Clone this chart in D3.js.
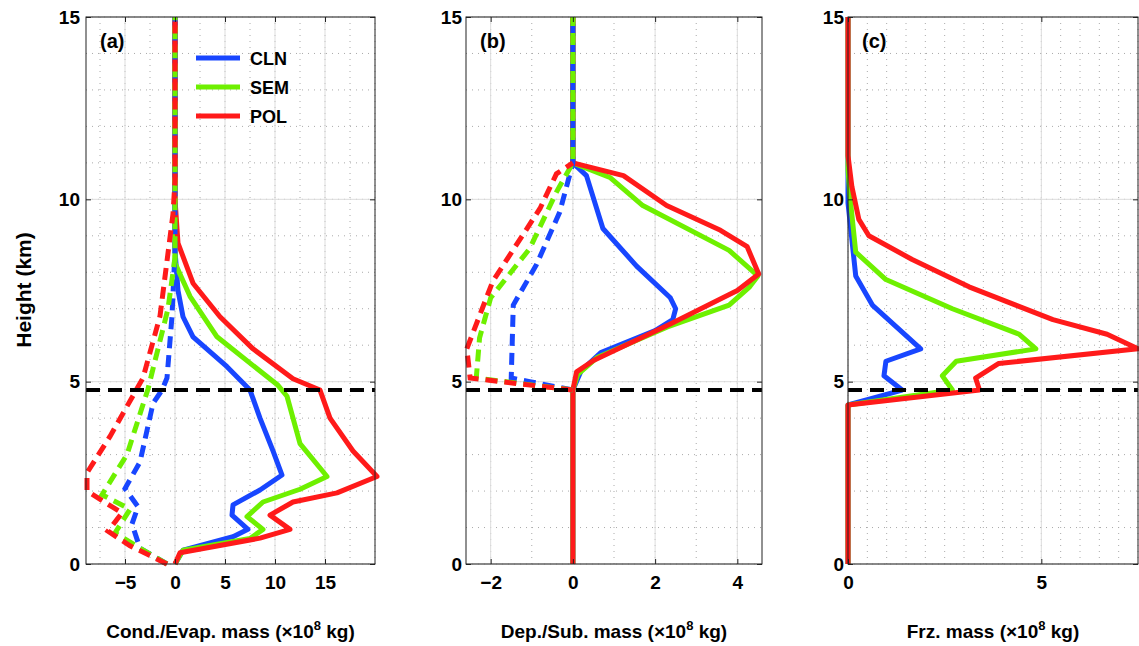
<!DOCTYPE html><html><head><meta charset="utf-8">
<script src="https://cdn.jsdelivr.net/npm/d3@7"></script>
<style>body{margin:0;background:#fff}text{font-family:Arial,"Liberation Sans",sans-serif;font-weight:bold}</style></head><body>
<svg id="c" width="1139" height="646"></svg>
<script>
// data: arrays of [value, height km]
const aCLN=[[0,0],[0.8,0.38],[5.8,0.75],[7.3,0.95],[5.7,1.34],[5.8,1.62],[8.5,2.03],[10.7,2.44],[9.8,3.1],[8.5,4.0],[7.5,4.77],[5.2,5.41],[1.8,6.23],[0.8,6.78],[0.3,7.5],[0,8.6],[0,15]];
const aSEM=[[0,0],[0.8,0.38],[7.5,0.7],[8.8,0.95],[7.2,1.3],[8.8,1.7],[12.5,2.05],[15.2,2.4],[12.5,3.3],[11.2,4.6],[10.3,4.9],[4.2,6.23],[1.5,7.34],[0,8.25],[0,15]];
const aPOL=[[0,0],[0.5,0.31],[8.5,0.71],[11.5,0.95],[9.5,1.34],[11.8,1.7],[16.2,1.95],[20.2,2.4],[17.8,3.1],[15.5,4.0],[14.5,4.77],[11.8,5.08],[7.8,5.9],[4.5,6.78],[1.8,7.7],[0.3,8.8],[0,10],[0,15]];
const aCLNd=[[-0.8,0],[-3.5,0.43],[-4.3,1.1],[-3.7,1.57],[-5.0,2.07],[-3.5,2.8],[-2.2,4.4],[-1.3,4.77],[-0.8,5.1],[-0.3,6.8],[0,8.6],[0,15]];
const aSEMd=[[-0.8,0],[-3.3,0.4],[-6.0,0.85],[-4.5,1.5],[-7.3,1.9],[-4.8,3.0],[-2.7,4.8],[-0.7,7.0],[0,8.4],[0,15]];
const aPOLd=[[-0.8,0],[-4.5,0.5],[-6.7,0.9],[-5.3,1.4],[-8.8,2.0],[-8.8,2.5],[-6.5,3.5],[-3.2,5.1],[-1.5,6.8],[-0.2,9.6],[0,10.5],[0,15]];
const bCLN=[[0,0],[0,4.77],[0.2,5.3],[0.68,5.8],[2.0,6.4],[2.43,6.7],[2.5,7.0],[2.37,7.3],[1.55,8.17],[0.73,9.2],[0.33,10.65],[0,11],[0,15]];
const bSEM=[[0,0],[0,4.77],[0.12,5.2],[0.6,5.67],[2.3,6.5],[3.8,7.1],[4.3,7.6],[4.5,7.9],[3.8,8.6],[1.7,9.83],[0.9,10.6],[0,11],[0,15]];
const bPOL=[[0,0],[0,4.77],[0.09,5.27],[0.5,5.58],[2.37,6.58],[4.0,7.5],[4.52,7.95],[4.24,8.7],[3.59,9.15],[2.28,9.83],[1.23,10.65],[0,11],[0,15]];
const bCLNd=[[0,4.77],[-1.05,5.0],[-1.5,5.1],[-1.45,7.1],[-0.89,8.2],[-0.32,9.65],[0,11],[0,15]];
const bSEMd=[[0,4.77],[-2.35,5.1],[-2.27,6.2],[-2.0,7.3],[-1.05,8.65],[-0.4,10.2],[0,11],[0,15]];
const bPOLd=[[0,4.77],[-2.5,5.1],[-2.58,5.9],[-1.95,7.75],[-0.8,9.75],[-0.4,10.7],[0,11]];
const cCLN=[[0,0],[0,4.36],[1.4,4.77],[0.93,5.16],[0.98,5.56],[1.88,5.9],[0.63,7.1],[0.2,7.9],[0,9.9],[0,15]];
const cSEM=[[0,0],[0,4.36],[2.7,4.77],[2.44,5.16],[2.8,5.56],[4.86,5.9],[4.43,6.3],[2.7,7.0],[0.98,7.8],[0.2,8.55],[0.05,10.1],[0,10.8],[0,15]];
const cPOL=[[0,0],[0,4.36],[3.4,4.77],[3.3,5.1],[3.9,5.5],[7.5,5.9],[6.7,6.3],[5.3,6.7],[3.13,7.6],[1.66,8.35],[0.54,9.0],[0.28,9.45],[0.1,10.35],[0,11.2],[0,15]];
const meltLayer=4.77;
const seriesNames=["CLN","SEM","POL"];
const colors=["#1846ff","#6ef000","#ff1a1a"];
const yTicks=[0,5,10,15];
const panels=[
 {l:86,r:375,dom:[-8.9,20],ticks:[-5,0,5,10,15],minor:2.5,label:"(a)",title:"Cond./Evap. mass ",solid:[aCLN,aSEM,aPOL],dash:[aCLNd,aSEMd,aPOLd],ylx:72},
 {l:466,r:762,dom:[-2.6,4.6],ticks:[-2,0,2,4],minor:1,label:"(b)",title:"Dep./Sub. mass ",solid:[bCLN,bSEM,bPOL],dash:[bCLNd,bSEMd,bPOLd],ylx:454},
 {l:848,r:1138,dom:[0,7.5],ticks:[0,5],minor:0.5,label:"(c)",title:"Frz. mass ",solid:[cCLN,cSEM,cPOL],dash:[],ylx:836}];
const svg=d3.select("#c");
const yT=17,yB=564;
const y=d3.scaleLinear().domain([0,15]).range([yB,yT]);
panels.forEach((p,pi)=>{
 const x=d3.scaleLinear().domain(p.dom).range([p.l,p.r]);
 const g=svg.append("g");
 const mn=d3.range(Math.ceil(p.dom[0]/p.minor)*p.minor,p.dom[1]+1e-9,p.minor);
 g.selectAll(".mx").data(mn).join("line").attr("x1",d=>x(d)).attr("x2",d=>x(d)).attr("y1",yT).attr("y2",yB)
  .attr("stroke","#aaa").attr("stroke-width",1).attr("stroke-dasharray","1,5");
 g.selectAll(".my").data(d3.range(0,16)).join("line").attr("y1",d=>y(d)).attr("y2",d=>y(d)).attr("x1",p.l).attr("x2",p.r)
  .attr("stroke","#aaa").attr("stroke-width",1).attr("stroke-dasharray","1,5");
 g.selectAll(".Mx").data(p.ticks).join("line").attr("x1",d=>x(d)).attr("x2",d=>x(d)).attr("y1",yT).attr("y2",yB).attr("stroke","#ddd");
 g.selectAll(".My").data(yTicks).join("line").attr("y1",d=>y(d)).attr("y2",d=>y(d)).attr("x1",p.l).attr("x2",p.r).attr("stroke","#ddd");
 const ln=d3.line().x(d=>x(d[0])).y(d=>y(d[1]));
 p.solid.forEach((s,i)=>g.append("path").attr("d",ln(s)).attr("fill","none").attr("stroke",colors[i]).attr("stroke-width",5).attr("stroke-linejoin","round"));
 p.dash.forEach((s,i)=>g.append("path").attr("d",ln(s)).attr("fill","none").attr("stroke",colors[i]).attr("stroke-width",5).attr("stroke-dasharray","12,7"));
 g.append("line").attr("x1",p.l).attr("x2",p.r).attr("y1",y(meltLayer)).attr("y2",y(meltLayer)).attr("stroke","#000").attr("stroke-width",4).attr("stroke-dasharray","14,8");
 g.append("rect").attr("x",p.l).attr("y",yT).attr("width",p.r-p.l).attr("height",yB-yT).attr("fill","none").attr("stroke","#222").attr("stroke-width",1);
 g.append("g").attr("transform",`translate(0,${yB})`).call(d3.axisBottom(x).tickValues(p.ticks).tickSize(-5).tickPadding(12).tickFormat(d3.format("d")));
 g.append("g").attr("transform",`translate(${p.l},0)`).call(d3.axisLeft(y).tickValues(yTicks).tickSize(-5).tickPadding(p.l-p.ylx-8));
 g.append("g").attr("transform",`translate(0,${yT})`).call(d3.axisTop(x).tickValues(p.ticks).tickSize(-5).tickFormat(""));
 g.append("g").attr("transform",`translate(${p.r},0)`).call(d3.axisRight(y).tickValues(yTicks).tickSize(-5).tickFormat(""));
 g.selectAll(".domain").remove();
 g.selectAll(".tick text").attr("font-size",19).attr("fill","#000").style("font-family","Arial,'Liberation Sans',sans-serif").style("font-weight","bold");
 g.selectAll(".tick line").attr("stroke","#222");
 g.append("text").attr("x",p.l+14).attr("y",48).attr("font-size",20).text(p.label);
 const t=g.append("text").attr("x",(p.l+p.r)/2).attr("y",638).attr("text-anchor","middle").attr("font-size",19).text(p.title+"(\u00d710");
 t.append("tspan").attr("dy",-8).attr("font-size",13).text("8");
 t.append("tspan").attr("dy",8).text(" kg)");
 if(pi===0){
  seriesNames.forEach((n,i)=>{
   g.append("line").attr("x1",196).attr("x2",240).attr("y1",58+i*29).attr("y2",58+i*29).attr("stroke",colors[i]).attr("stroke-width",5);
   g.append("text").attr("x",250).attr("y",65+i*29).attr("font-size",18).text(n);
  });
 }
});
svg.append("text").attr("transform","translate(31,290) rotate(-90)").attr("text-anchor","middle").attr("font-size",21).text("Height (km)");
</script></body></html>
